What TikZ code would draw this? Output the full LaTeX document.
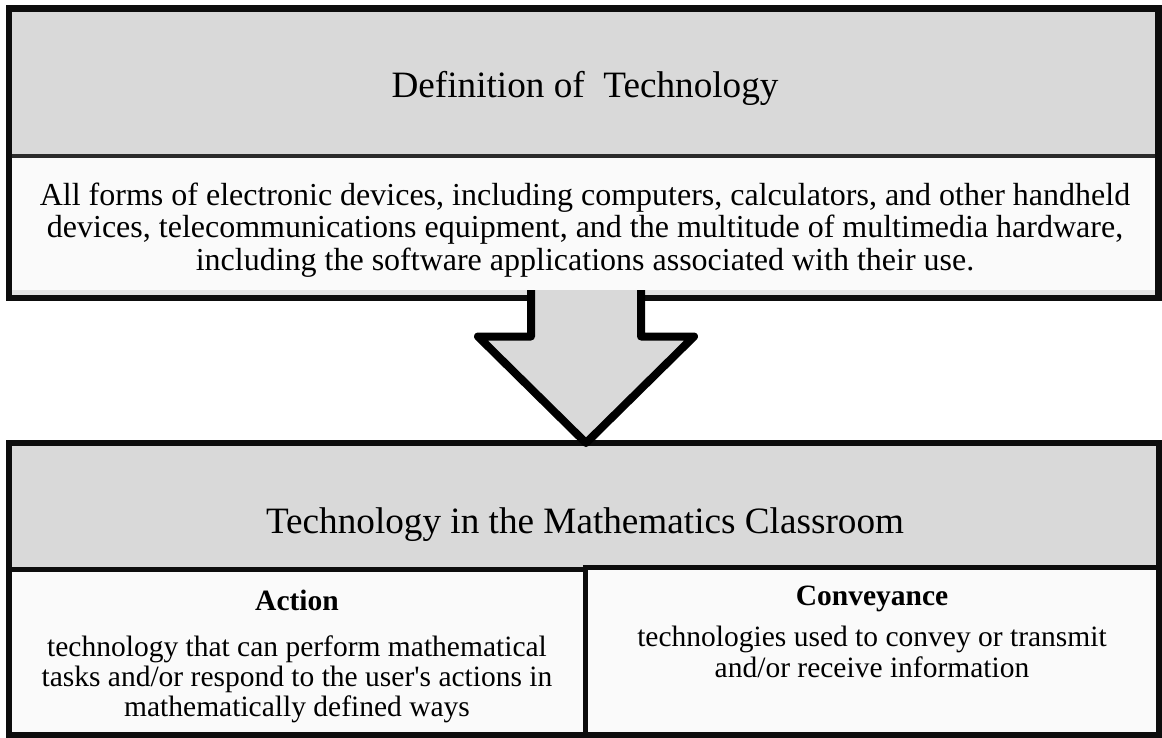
\documentclass[tikz,border=0pt]{standalone}
\usepackage{fontspec}
\setmainfont{Liberation Serif}
\newcommand{\straightapos}{\XeTeXglyph\XeTeXcharglyph"0027\relax}
\definecolor{hdrgray}{HTML}{D9D9D9}
\definecolor{bodywhite}{HTML}{FAFAFA}
\definecolor{stripgray}{HTML}{E3E3E3}
\definecolor{edgeblack}{HTML}{0D0D0D}
\definecolor{divgray}{HTML}{2B2B2B}
\tikzset{
  panel/.style={draw=none, inner sep=0pt, outer sep=0pt, rectangle},
  titletext/.style={inner sep=0pt, anchor=base, font=\fontsize{37.2}{40}\selectfont},
  bodytext/.style 2 args={inner sep=0pt, anchor=north, align=center, font=\fontsize{#1}{#2}\selectfont},
  boldtext/.style={inner sep=0pt, anchor=base, font=\fontsize{29.5}{32}\selectfont\bfseries},
  outerframe/.style={draw=edgeblack, line width=6.5pt, line join=miter},
  innerframe/.style={draw=edgeblack, line width=5pt},
  bigarrow/.style={draw=black, line width=8pt, line join=round, line cap=butt},
}
\begin{document}
\begin{tikzpicture}[x=1pt,y=-1pt]
\useasboundingbox (0,0) rectangle (1162,738);
\fill[white] (0,0) rectangle (1162,738);

% ---------- top box ----------
\fill[hdrgray] (9,8.5) rectangle (1158.5,156.5);
\fill[bodywhite] (9,156.5) rectangle (1158.5,298);
\fill[stripgray] (12,289.5) rectangle (1156,295);
\node[panel, minimum width=1149.5pt, minimum height=148pt, anchor=north west] (defhead) at (9,8.5) {};
\node[panel, minimum width=1149.5pt, minimum height=141.5pt, anchor=north west] (defbody) at (9,156.5) {};
\draw[divgray, line width=4pt] (defhead.south west) -- (defhead.south east);
\draw[outerframe] (defhead.north west) rectangle (defbody.south east);

\node[titletext] (deftitle) at (585,98) {Definition of\ \ Technology};
\node[bodytext={32}{32.5}] (deftext) at (585,182.25) {\strut All forms of electronic devices, including computers, calculators, and other handheld\\
\strut devices, telecommunications equipment, and the multitude of multimedia hardware,\\
\strut including the software applications associated with their use.};

% ---------- bottom box ----------
\fill[hdrgray] (9,443) rectangle (1159.5,568);
\node[panel, minimum width=1150.5pt, minimum height=125pt, anchor=north west] (mathhead) at (9,443) {};
\fill[bodywhite] (9,569) rectangle (585.5,735.5);
\fill[bodywhite] (585.5,567.5) rectangle (1159.5,735.5);
\node[panel, minimum width=576.5pt, minimum height=166.5pt, anchor=north west] (actbox) at (9,569) {};
\node[panel, minimum width=574pt, minimum height=168pt, anchor=north west] (convbox) at (585.5,567.5) {};
\draw[innerframe] (actbox.north west) rectangle (actbox.south east);
\draw[innerframe] (convbox.north west) rectangle (convbox.south east);
\draw[outerframe] (mathhead.north west) -- (mathhead.north east) -- (convbox.south east) -- (actbox.south west) -- cycle;

\node[titletext] (mathtitle) at (585,533) {Technology in the Mathematics Classroom};

\node[boldtext] (acttitle) at (297,610) {Action};
\node[bodytext={29.5}{28.5}] (acttext) at (297,635.05) {\strut technology that can perform mathematical\\
\strut tasks and/or respond to the user\straightapos s actions in\\
\strut mathematically defined ways};

\node[boldtext] (convtitle) at (872,605) {Conveyance};
\node[bodytext={29.5}{28.5}] (convtext) at (872,626.05) {\strut technologies used to convey or transmit\\
\strut and/or receive information};

% ---------- arrow ----------
\coordinate (shaftL) at (531,290);
\coordinate (shaftR) at (641,290);
\coordinate (tip) at (586,443);
\fill[hdrgray] (shaftL) -- (531,336.5) -- (478,336.5) -- (tip) -- (694,336.5) -- (641,336.5) -- (shaftR) -- cycle;
\draw[bigarrow] (shaftL) -- (531,336.5) -- (478,336.5) -- (tip) -- (694,336.5) -- (641,336.5) -- (shaftR);
\end{tikzpicture}
\end{document}
